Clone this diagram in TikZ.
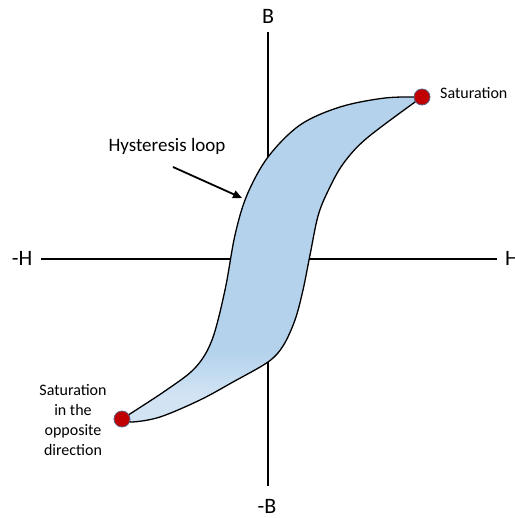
\documentclass[tikz,border=0pt]{standalone}
\usepackage{fontspec}
\setmainfont{Carlito}
\usetikzlibrary{arrows.meta}
\definecolor{loopblue}{HTML}{B4D2EC}
\definecolor{looplight}{HTML}{D2E4F4}
\definecolor{satred}{HTML}{C00000}
\definecolor{satedge}{HTML}{5F5F80}
\pgfdeclareverticalshading{loopshade}{100bp}{color(0bp)=(looplight); color(29bp)=(looplight); color(36bp)=(loopblue); color(100bp)=(loopblue)}
\tikzset{
  axis/.style={line width=1.8pt, black},
  axislabel/.style={font=\fontsize{22}{26}\selectfont, inner sep=0pt},
  smalllabel/.style={font=\fontsize{16}{20}\selectfont, inner sep=0pt, align=center},
  biglabel/.style={font=\fontsize{19}{23}\selectfont, inner sep=0pt},
  satdot/.style={circle, minimum size=16pt, inner sep=0pt, fill=satred, draw=satedge, line width=0.8pt},
  loopline/.style={draw=black, line width=1.3pt, shade, shading=loopshade},
  pointer/.style={line width=1.8pt, -{Triangle[length=9pt,width=8pt]}}
}
\begin{document}
\begin{tikzpicture}[x=1pt,y=-1pt]
\useasboundingbox (0,0) rectangle (514,518);
% axes
\coordinate (hl) at (41,259);
\coordinate (hr) at (497,259);
\coordinate (bt) at (268,32);
\coordinate (bb) at (268,486);
\draw[axis] (hl) -- (hr);
\draw[axis] (bt) -- (bb);
\node[axislabel] (lB) at (268,16) {B};
\node[axislabel] (lmB) at (267,506) {-B};
\node[axislabel] (lmH) at (22,258) {-H};
\node[axislabel, anchor=west] (lH) at (505,258) {H};
% loop
\path[loopline]
  plot[smooth, tension=0.55] coordinates {(422,97) (385,98) (340,107) (300,125) (268,157) (247,195) (235,235) (225,290) (212,340) (195,368) (165,391) (122,419)}
  -- plot[smooth, tension=0.55] coordinates {(122,419) (132,422) (160,417) (200,400) (233,382) (268,362) (283,346) (295,320) (303,290) (310,255) (318,216) (328,191) (343,164) (367,138) (422,97)}
  -- cycle;
\node[satdot] (s1) at (422,97) {};
\node[satdot] (s2) at (122,419) {};
% labels
\node[smalllabel, anchor=west] (t1) at (440,93) {Saturation};
\node[smalllabel] (t2) at (73,420) {Saturation\\in the\\opposite\\direction};
\node[biglabel] (hyst) at (167,146) {Hysteresis loop};
\coordinate (ar1) at (173,167);
\coordinate (ar2) at (242,198);
\draw[pointer] (ar1) -- (ar2);
\end{tikzpicture}
\end{document}
